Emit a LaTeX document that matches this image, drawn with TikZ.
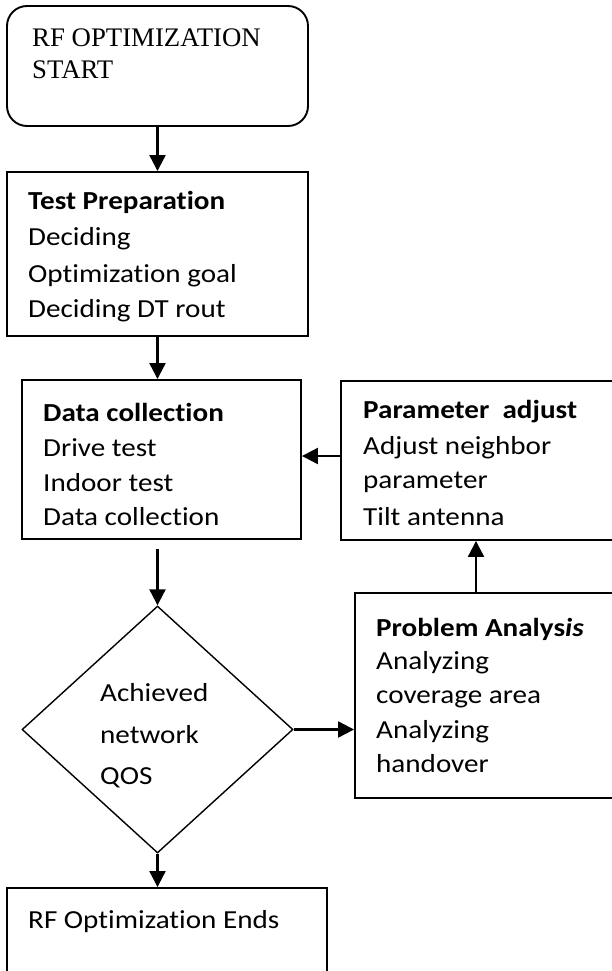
\documentclass[tikz,border=0pt]{standalone}
\usepackage{fontspec}
\setmainfont{Carlito}[FakeStretch=1.12, Ligatures=NoCommon]
\newfontfamily\timesfont{Liberation Serif}
\usetikzlibrary{shapes.geometric,arrows.meta}

\begin{document}
\begin{tikzpicture}[x=1pt,y=-1pt,
  box/.style={draw, line width=1.9pt, inner sep=0pt},
  txt/.style={anchor=base west, inner sep=0pt, font=\fontsize{26}{32}\selectfont},
  arr/.style={line width=2.2pt, -{Triangle[length=16pt,width=16pt]}}]
\useasboundingbox (0,0) rectangle (612,971);
\clip (0,0) rectangle (612,971);

% boxes
\node[box, rounded corners=20pt, minimum width=301pt, minimum height=120pt] (start) at (157.5,66) {};
\node[box, minimum width=301pt, minimum height=164pt] (prep) at (157.5,254) {};
\node[box, minimum width=279pt, minimum height=159pt] (collect) at (161.5,459.5) {};
\node[box, minimum width=274pt, minimum height=159pt] (param) at (478,460.5) {};
\node[box, minimum width=260pt, minimum height=205pt] (prob) at (485,695.5) {};
\node[draw, line width=1.4pt, shape=diamond, inner sep=0pt, minimum width=271pt, minimum height=247pt] (qos) at (157.5,729.5) {};
\node[box, minimum width=320pt, minimum height=92pt] (stop) at (167,934) {};

% texts
\node[txt, font=\fontsize{26.8}{32}\selectfont] (s1) at (32,47) {\timesfont RF OPTIMIZATION};
\node[txt, font=\fontsize{26.8}{32}\selectfont] (s2) at (32,79) {\timesfont START};

\node[txt] (p1) at (28,209) {\textbf{Test Preparation}};
\node[txt] (p2) at (28,245) {Deciding};
\node[txt] (p3) at (28,282) {Optimization goal};
\node[txt] (p4) at (28,317) {Deciding DT rout};

\node[txt] (c1) at (43,421) {\textbf{Data collection}};
\node[txt] (c2) at (43,456) {Drive test};
\node[txt] (c3) at (43,491) {Indoor test};
\node[txt] (c4) at (43,525) {Data collection};

\node[txt] (a1) at (363,418) {\textbf{Parameter\ \ adjust}};
\node[txt] (a2) at (363,454) {Adjust neighbor};
\node[txt] (a3) at (363,488) {parameter};
\node[txt] (a4) at (363,525) {Tilt antenna};

\node[txt] (b1) at (376,636) {\textbf{Problem Analys\textit{is}}};
\node[txt] (b2) at (376,669) {Analyzing};
\node[txt] (b3) at (376,703) {coverage area};
\node[txt] (b4) at (376,738) {Analyzing};
\node[txt] (b5) at (376,772) {handover};

\node[txt] (q1) at (100,701) {Achieved};
\node[txt] (q2) at (100,743) {network};
\node[txt] (q3) at (100,784) {QOS};

\node[txt] (e1) at (28,928) {RF Optimization Ends};

% connectors
\draw[arr] (start.south) -- (prep.north);
\draw[arr] (prep.south) -- (prep.south |- collect.north);
\draw[arr, shorten <=9pt] (qos.north |- collect.south) -- (qos.north);
\draw[arr] (qos.south) -- (qos.south |- stop.north);
\draw[arr] (qos.east) -- (qos.east -| prob.west);
\draw[arr] ([xshift=-9pt]prob.north) -- ([xshift=-9pt]prob.north |- param.south);
\draw[arr] ([yshift=4.5pt]param.west) -- ([yshift=4.5pt]param.west -| collect.east);
\end{tikzpicture}
\end{document}
